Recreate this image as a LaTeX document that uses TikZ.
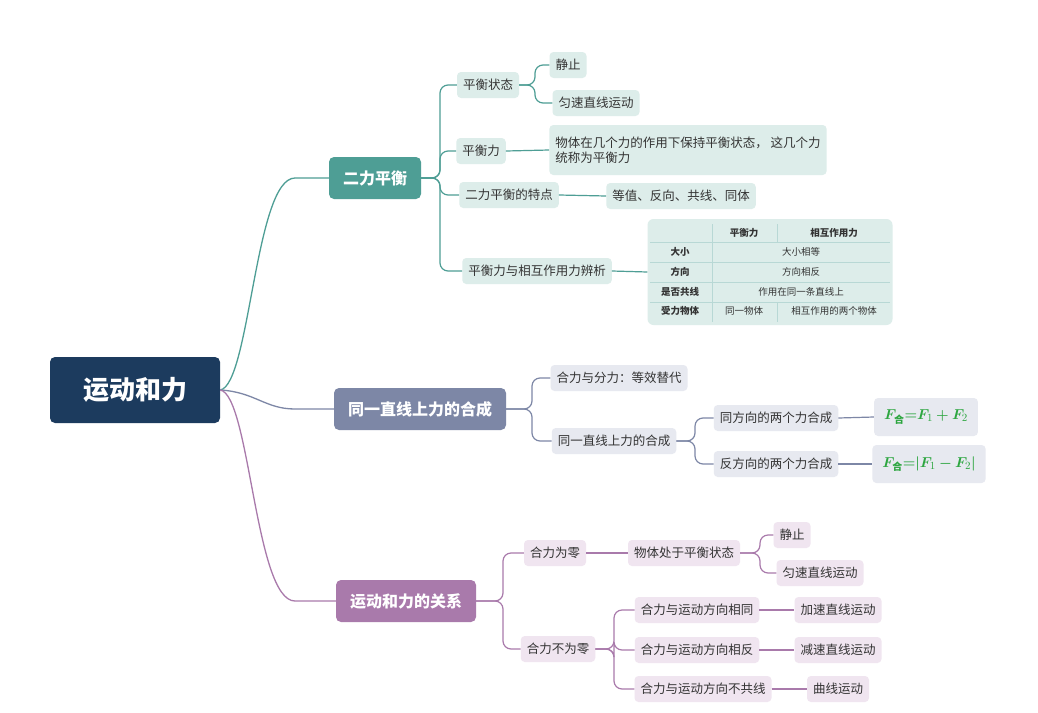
\documentclass[tikz,border=0pt]{standalone}
\usepackage{fontspec}
\usepackage{bm}
\setmainfont{Noto Sans CJK SC}
\definecolor{navy}{HTML}{1C3B5E}
\definecolor{teal}{HTML}{4E9E95}
\definecolor{tealL}{HTML}{DDEDEA}
\definecolor{gb}{HTML}{7D87A6}
\definecolor{gbL}{HTML}{E7E9F0}
\definecolor{pur}{HTML}{A97AAB}
\definecolor{purL}{HTML}{F0E5F0}
\definecolor{fgreen}{HTML}{2DA640}
\definecolor{txt}{HTML}{333333}
\tikzset{
 x=1pt,y=-1pt,
 main/.style={rounded corners=5pt,text=white,font=\fontsize{16}{18}\selectfont\bfseries,minimum height=42pt,inner xsep=14pt},
 sub/.style={rounded corners=4pt,text=txt,font=\fontsize{12.5}{15}\selectfont,minimum height=26pt,inner xsep=6pt},
 ts/.style={sub,fill=tealL}, gs/.style={sub,fill=gbL}, ps/.style={sub,fill=purL},
 tl/.style={draw=teal,line width=1.2pt,rounded corners=8pt},
 gl/.style={draw=gb,line width=1.2pt,rounded corners=8pt},
 pl/.style={draw=pur,line width=1.2pt,rounded corners=8pt},
}
\begin{document}
\begin{tikzpicture}
\useasboundingbox[fill=white] (0,0) rectangle (1038,712);
% root and main
\node[fill=navy,rounded corners=5pt,text=white,font=\fontsize{26}{30}\selectfont\bfseries,minimum width=170pt,minimum height=66pt] (root) at (135,390) {运动和力};
\node[main,fill=teal] (b1) at (375,178) {二力平衡};
\node[main,fill=gb] (b2) at (420,409) {同一直线上力的合成};
\node[main,fill=pur] (b3) at (406,601) {运动和力的关系};
\draw[teal,line width=1.3pt] (root.east) .. controls (250,385) and (255,178) .. (295,178) -- (b1.west);
\draw[gb,line width=1.3pt] (root.east) .. controls (255,392) and (265,409) .. (295,409) -- (b2.west);
\draw[pur,line width=1.3pt] (root.east) .. controls (250,395) and (255,601) .. (295,601) -- (b3.west);
% teal branch
\node[ts] (a1) at (488,85) {平衡状态};
\node[ts] (a11) at (568,65) {静止};
\node[ts] (a12) at (596,103) {匀速直线运动};
\node[ts] (a2) at (481,151) {平衡力};
\node[ts,align=left,minimum height=50pt] (a21) at (688,150) {物体在几个力的作用下保持平衡状态， 这几个力\\统称为平衡力};
\node[ts] (a3) at (509,195) {二力平衡的特点};
\node[ts] (a31) at (681,196) {等值、反向、共线、同体};
\node[ts] (a4) at (537,271) {平衡力与相互作用力辨析};
\node[fill=tealL,rounded corners=6pt,minimum width=245pt,minimum height=106pt] (tab) at (770,272) {};
\foreach \y in {242,262,282,302} \draw[white!60!teal,line width=0.5pt] (650,\y) -- (890,\y);
\draw[white!60!teal,line width=0.5pt] (712,224) -- (712,322);
\draw[white!60!teal,line width=0.5pt] (777,224) -- (777,242) (777,302) -- (777,322);
\begin{scope}[font=\fontsize{9.5}{11}\selectfont,text=txt]
\node[font=\fontsize{9.5}{11}\selectfont\bfseries] (h1) at (744,233) {平衡力};
\node[font=\fontsize{9.5}{11}\selectfont\bfseries] (h2) at (834,233) {相互作用力};
\node[font=\fontsize{9.5}{11}\selectfont\bfseries] (r1) at (680,252) {大小};
\node[font=\fontsize{9.5}{11}\selectfont\bfseries] (r2) at (680,272) {方向};
\node[font=\fontsize{9.5}{11}\selectfont\bfseries] (r3) at (680,292) {是否共线};
\node[font=\fontsize{9.5}{11}\selectfont\bfseries] (r4) at (680,311) {受力物体};
\node (c1) at (801,252) {大小相等};
\node (c2) at (801,272) {方向相反};
\node (c3) at (801,292) {作用在同一条直线上};
\node (c4) at (744,311) {同一物体};
\node (c5) at (834,311) {相互作用的两个物体};
\end{scope}
\draw[tl] (b1.east) -- (440,178) |- (a1.west);
\draw[tl] (b1.east) -- (440,178) |- (a2.west);
\draw[tl] (b1.east) -- (440,178) |- (a3.west);
\draw[tl] (b1.east) -- (440,178) |- (a4.west);
\draw[tl] (a1.east) -- (535,85) |- (a11.west);
\draw[tl] (a1.east) -- (535,85) |- (a12.west);
\draw[tl] (a2.east) -- (a21.west);
\draw[tl] (a3.east) -- (a31.west);
\draw[tl] (a4.east) -- (tab.west);
% gray branch
\node[gs] (g1) at (619,378) {合力与分力：等效替代};
\node[gs] (g2) at (614,441) {同一直线上力的合成};
\node[gs] (g21) at (776,418) {同方向的两个力合成};
\node[gs] (g22) at (776,464) {反方向的两个力合成};
\node[gs,minimum height=38pt,text=fgreen,inner xsep=10pt] (f1) at (926,417) {\fontsize{15}{17}\selectfont$\bm{F}_{\mbox{\fontsize{10}{10}\selectfont\bfseries 合}}{\bm=}\bm{F}_1\bm{+}\bm{F}_2$};
\node[gs,minimum height=38pt,text=fgreen,inner xsep=10pt] (f2) at (929,464) {\fontsize{15}{17}\selectfont$\bm{F}_{\mbox{\fontsize{10}{10}\selectfont\bfseries 合}}{\bm=}\bm{|}\bm{F}_1\bm{-}\bm{F}_2\bm{|}$};
\draw[gl] (b2.east) -- (532,409) |- (g1.west);
\draw[gl] (b2.east) -- (532,409) |- (g2.west);
\draw[gl] (g2.east) -- (695,441) |- (g21.west);
\draw[gl] (g2.east) -- (695,441) |- (g22.west);
\draw[gl] (g21.east) -- (f1.west);
\draw[gl] (g22.east) -- (f2.west);
% purple branch
\node[ps] (p1) at (555,553) {合力为零};
\node[ps] (p11) at (684,553) {物体处于平衡状态};
\node[ps] (p111) at (792,535) {静止};
\node[ps] (p112) at (820,573) {匀速直线运动};
\node[ps] (p2) at (558,649) {合力不为零};
\node[ps] (p21) at (697,610) {合力与运动方向相同};
\node[ps] (p211) at (838,610) {加速直线运动};
\node[ps] (p22) at (697,650) {合力与运动方向相反};
\node[ps] (p221) at (838,650) {减速直线运动};
\node[ps] (p23) at (703,689) {合力与运动方向不共线};
\node[ps] (p231) at (838,689) {曲线运动};
\draw[pl] (b3.east) -- (503,601) |- (p1.west);
\draw[pl] (b3.east) -- (503,601) |- (p2.west);
\draw[pl] (p1.east) -- (p11.west);
\draw[pl] (p11.east) -- (760,553) |- (p111.west);
\draw[pl] (p11.east) -- (760,553) |- (p112.west);
\draw[pl] (p2.east) -- (614,649) |- (p21.west);
\draw[pl] (p2.east) -- (614,649) |- (p22.west);
\draw[pl] (p2.east) -- (614,649) |- (p23.west);
\draw[pl] (p21.east) -- (p211.west);
\draw[pl] (p22.east) -- (p221.west);
\draw[pl] (p23.east) -- (p231.west);
\end{tikzpicture}
\end{document}
